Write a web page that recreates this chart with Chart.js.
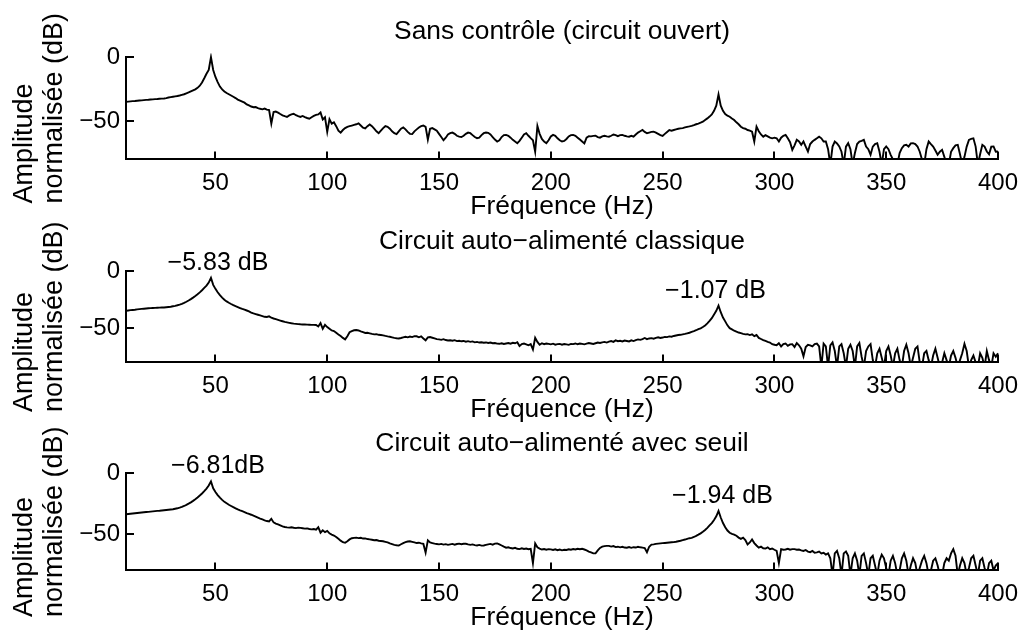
<!DOCTYPE html>
<html lang="fr">
<head>
<meta charset="utf-8">
<title>Spectres normalisés</title>
<script src="https://cdn.jsdelivr.net/npm/chart.js@4.4.1/dist/chart.umd.min.js"></script>
<style>
  html, body { margin: 0; padding: 0; background: #fff; overflow: hidden; }
  body { width: 1027px; height: 633px; position: relative; }
  .panel { position: absolute; left: 0; width: 1027px; }
</style>
</head>
<body>
<div class="panel" id="p1"><canvas id="c1"></canvas></div>
<div class="panel" id="p2"><canvas id="c2"></canvas></div>
<div class="panel" id="p3"><canvas id="c3"></canvas></div>
<script>
// frequency bins, 1 Hz apart
const freqStart = 10;
const freqEnd = 400;
const frequencies = Array.from({ length: freqEnd - freqStart + 1 }, (_, i) => freqStart + i);

const freqTicks = [50, 100, 150, 200, 250, 300, 350, 400];
const dbTicks = [-50, 0];
const dbMin = -80;
const dbMax = 0;

const titles = [
  "Sans contrôle (circuit ouvert)",
  "Circuit auto\u2212alimenté classique",
  "Circuit auto\u2212alimenté avec seuil",
];
const xTitle = "Fréquence (Hz)";
const yTitle = ["Amplitude", "normalisée (dB)"];

// normalised amplitude (dB), one value per bin from 10 to 400 Hz
const openCircuit = [
  -35.0, -34.8, -34.6, -34.4, -34.3, -34.1, -33.9, -33.8, -33.6, -33.4,
  -33.3, -33.1, -33.0, -32.8, -32.7, -32.5, -32.4, -32.3, -32.0, -31.6,
  -31.3, -31.0, -30.7, -30.4, -30.0, -29.5, -29.0, -28.3, -27.6, -26.8,
  -26.0, -25.2, -24.0, -22.3, -19.8, -16.5, -13.0, -10.0, 0.0, -10.0,
  -15.5, -19.5, -23.0, -25.2, -26.8, -28.0, -29.0, -30.0, -31.0, -32.0,
  -33.2, -34.0, -34.8, -35.6, -37.0, -37.8, -38.6, -39.2, -39.0, -39.8,
  -40.4, -40.8, -40.2, -41.0, -41.4, -52.0, -43.0, -42.6, -43.4, -44.5,
  -45.5, -46.2, -46.8, -45.6, -44.8, -44.3, -45.4, -46.2, -46.8, -46.0,
  -46.9, -47.6, -48.2, -47.0, -46.0, -45.2, -44.8, -43.3, -48.8, -47.0,
  -58.5, -48.5, -52.0, -51.0, -54.0, -57.5, -59.0, -57.0, -55.5, -54.5,
  -54.0, -53.5, -53.0, -52.5, -51.8, -53.5, -55.2, -55.8, -54.0, -52.6,
  -54.0, -56.0, -58.0, -59.5, -57.5, -55.5, -54.0, -54.5, -56.0, -58.0,
  -59.5, -60.2, -58.0, -56.0, -55.0, -56.5, -58.5, -60.0, -60.2, -58.0,
  -56.5, -55.0, -54.0, -53.5, -54.5, -64.5, -56.0, -55.5, -56.5, -57.5,
  -60.0, -62.5, -65.0, -63.0, -60.5, -59.5, -59.0, -60.0, -61.5, -62.2,
  -62.5, -61.5, -60.0, -59.0, -59.5, -61.0, -62.5, -63.4, -63.0, -61.0,
  -59.5, -59.0, -59.2, -60.5, -62.5, -64.5, -66.0, -65.0, -62.5, -61.0,
  -60.8, -61.5, -63.0, -64.7, -66.0, -67.3, -65.5, -63.0, -60.5, -59.5,
  -61.5, -63.4, -65.0, -74.0, -53.8, -60.0, -64.0, -66.0, -67.3, -65.0,
  -62.0, -60.8, -61.5, -63.5, -65.0, -66.0, -65.5, -64.0, -62.0, -61.0,
  -60.8, -61.5, -63.0, -64.5, -66.0, -67.5, -63.0, -61.8, -62.0, -61.6,
  -61.5, -62.5, -63.0, -62.0, -61.5, -62.0, -62.2, -61.5, -60.5, -61.0,
  -61.8, -61.0, -60.8, -61.5, -62.0, -62.2, -61.5, -62.2, -60.5, -59.0,
  -58.0, -57.0, -58.5, -59.5, -59.0, -58.5, -58.3, -59.0, -60.0, -61.0,
  -61.6, -60.0, -58.5, -57.0, -57.5, -57.0, -56.5, -56.0, -55.7, -55.5,
  -55.0, -54.5, -54.2, -53.8, -53.2, -52.5, -52.0, -51.3, -50.5, -49.2,
  -47.9, -46.5, -44.8, -42.0, -38.0, -29.2, -38.0, -42.0, -44.5, -45.8,
  -46.6, -48.0, -49.2, -51.0, -52.5, -54.4, -55.5, -56.0, -57.0, -57.5,
  -58.3, -66.0, -54.4, -58.0, -60.5, -62.2, -61.0, -62.0, -63.0, -63.5,
  -63.0, -63.5, -66.0, -63.0, -61.5, -60.8, -63.5, -66.5, -72.5, -69.0,
  -64.7, -66.0, -68.6, -66.0, -70.0, -73.8, -68.0, -66.0, -64.7, -63.5,
  -62.2, -63.5, -66.0, -66.0, -72.0, -84.0, -70.0, -66.0, -67.5, -69.9,
  -74.0, -84.0, -70.0, -67.3, -72.0, -84.0, -75.0, -68.0, -66.0, -65.5,
  -64.7, -69.9, -72.0, -76.4, -70.0, -68.0, -67.3, -74.0, -84.0, -72.0,
  -69.9, -72.0, -76.4, -80.0, -84.0, -84.0, -75.0, -71.2, -69.0, -68.6,
  -70.0, -67.5, -67.3, -68.0, -69.9, -74.0, -80.0, -84.0, -72.0, -66.0,
  -68.0, -69.9, -73.0, -76.4, -74.0, -72.5, -78.0, -84.0, -84.0, -74.0,
  -71.2, -69.0, -68.6, -76.0, -84.0, -78.0, -70.0, -64.7, -64.0, -63.5,
  -70.0, -84.0, -76.0, -68.6, -70.0, -73.8, -76.0, -70.0, -69.9, -74.0,
  -73.8,
];

const selfPowered = [
  -34.8, -34.5, -34.2, -34.0, -33.8, -33.5, -33.3, -33.1, -32.9, -32.7,
  -32.5, -32.4, -32.3, -32.2, -32.1, -32.0, -31.9, -31.8, -31.6, -31.4,
  -31.2, -30.8, -30.4, -29.9, -29.3, -28.6, -27.8, -26.8, -25.7, -24.5,
  -23.2, -21.8, -20.3, -18.6, -16.7, -14.7, -12.7, -10.0, -5.83, -12.0,
  -15.5, -18.5, -21.0, -23.2, -25.0, -26.5, -27.7, -28.8, -29.8, -30.7,
  -31.5, -32.3, -33.1, -33.8, -34.5, -35.2, -36.3, -37.0, -37.6, -38.2,
  -38.8, -39.4, -40.0, -40.2, -39.6, -40.8, -41.5, -42.1, -42.7, -43.3,
  -43.9, -44.5, -44.9, -45.3, -45.7, -46.0, -46.2, -46.4, -46.6, -46.7,
  -46.8, -46.9, -47.0, -47.1, -47.1, -47.2, -48.5, -45.5, -50.5, -47.0,
  -49.0, -50.5, -52.0, -52.5, -54.0, -55.5, -56.9, -58.5, -59.8, -57.0,
  -53.5, -52.5, -51.8, -51.6, -52.0, -52.8, -53.5, -54.2, -54.0, -54.5,
  -55.0, -55.4, -55.2, -55.8, -56.0, -56.3, -56.8, -57.2, -57.5, -58.0,
  -58.5, -58.8, -59.0, -58.6, -58.0, -57.5, -58.0, -57.3, -57.8, -57.0,
  -57.1, -58.0, -57.2, -59.0, -60.6, -58.0, -57.8, -58.4, -59.0, -59.6,
  -59.8, -60.2, -59.6, -60.4, -60.8, -60.6, -61.0, -60.5, -61.3, -61.0,
  -61.5, -61.2, -61.9, -61.4, -62.0, -61.6, -62.4, -62.0, -62.6, -62.3,
  -62.8, -62.5, -63.0, -62.6, -63.2, -63.0, -63.5, -63.7, -63.2, -63.8,
  -63.4, -63.0, -63.6, -62.8, -63.2, -62.3, -65.7, -64.0, -63.5, -64.2,
  -65.0, -64.0, -68.7, -58.4, -62.0, -64.5, -63.2, -64.0, -63.4, -63.7,
  -64.2, -63.6, -64.5, -64.0, -63.8, -64.5, -63.9, -64.2, -64.6, -63.8,
  -64.0, -63.4, -64.1, -63.5, -63.7, -64.2, -63.6, -63.0, -63.4, -63.8,
  -63.2, -62.6, -63.0, -62.4, -62.0, -62.6, -61.8, -61.3, -62.0, -60.7,
  -61.4, -61.0, -61.6, -60.8, -61.2, -61.6, -60.6, -61.3, -60.4, -59.8,
  -60.2, -59.5, -58.6, -59.6, -59.0, -58.7, -59.2, -58.5, -58.0, -58.6,
  -58.2, -57.6, -57.8, -57.2, -57.5, -56.8, -56.4, -56.0, -55.8, -55.4,
  -55.0, -54.5, -54.0, -53.3, -52.6, -51.8, -50.8, -50.1, -49.0, -47.6,
  -45.8, -43.6, -41.2, -38.0, -34.8, -30.27, -36.0, -40.7, -44.0, -47.5,
  -50.0, -51.0, -52.2, -53.0, -53.8, -54.4, -55.0, -55.4, -55.2, -56.0,
  -55.4, -57.0, -56.0, -58.5, -59.5, -60.5, -61.2, -62.0, -62.6, -64.0,
  -64.5, -65.0, -63.2, -66.0, -64.0, -63.4, -65.5, -64.2, -64.0, -66.5,
  -63.0, -65.0, -68.0, -74.6, -66.5, -64.5, -65.0, -66.0, -64.0, -63.5,
  -66.0, -84.0, -63.5, -66.0, -84.0, -65.0, -62.5, -70.0, -84.0, -66.0,
  -64.0, -72.0, -84.0, -68.0, -64.5, -70.0, -84.0, -66.0, -63.0, -75.0,
  -84.0, -70.0, -66.0, -64.0, -78.0, -84.0, -72.0, -68.0, -76.0, -84.0,
  -70.0, -66.0, -74.0, -84.0, -72.0, -68.0, -78.0, -84.0, -70.0, -64.5,
  -72.0, -84.0, -76.0, -68.0, -66.0, -80.0, -84.0, -72.0, -70.0, -78.0,
  -84.0, -74.0, -68.0, -76.0, -84.0, -80.0, -72.0, -78.0, -84.0, -74.0,
  -70.0, -76.0, -84.0, -78.0, -72.0, -63.7, -70.0, -84.0, -78.0, -74.0,
  -80.0, -84.0, -72.0, -76.0, -84.0, -70.0, -78.0, -84.0, -72.0, -75.0,
  -72.0,
];

const selfPoweredThreshold = [
  -33.8, -33.6, -33.4, -33.2, -33.0, -32.8, -32.6, -32.4, -32.2, -32.0,
  -31.8, -31.6, -31.4, -31.2, -31.0, -30.9, -30.7, -30.5, -30.3, -30.1,
  -29.9, -29.7, -29.3, -28.9, -28.4, -27.8, -27.0, -26.1, -25.1, -24.0,
  -22.8, -21.5, -20.0, -18.4, -16.7, -14.8, -12.7, -10.2, -6.81, -12.5,
  -15.5, -18.0, -20.2, -22.0, -23.6, -24.8, -26.0, -27.0, -28.0, -28.9,
  -29.8, -30.6, -31.3, -32.0, -32.8, -33.5, -34.2, -35.0, -35.8, -36.6,
  -37.4, -38.1, -38.8, -39.4, -39.7, -37.5, -40.5, -41.5, -42.2, -43.0,
  -43.8, -44.3, -44.6, -44.8, -44.5, -44.9, -45.2, -44.8, -45.0, -45.3,
  -45.6, -45.4, -45.9, -46.2, -46.0, -46.5, -44.5, -49.0, -47.0, -48.5,
  -47.5, -49.5, -50.5, -51.3, -52.5, -54.0, -55.5, -56.8, -57.3, -56.0,
  -54.5, -53.5, -53.2, -53.0, -53.4, -53.2, -53.8, -53.7, -54.2, -54.5,
  -54.8, -55.2, -55.0, -55.6, -55.8, -56.0, -56.5, -57.0, -57.8, -58.4,
  -59.0, -59.3, -59.5, -58.5, -57.5, -56.8, -56.2, -56.0, -56.5, -57.0,
  -57.5, -57.2, -57.8, -58.2, -65.4, -55.3, -57.0, -57.5, -58.0, -58.3,
  -58.6, -58.2, -58.8, -58.4, -59.0, -58.6, -58.2, -58.8, -58.3, -58.0,
  -58.5, -58.1, -58.1, -58.6, -59.0, -58.6, -59.2, -59.5, -59.0, -59.6,
  -59.5, -59.0, -58.6, -58.2, -58.8, -58.0, -57.8, -58.6, -59.5, -60.5,
  -61.3, -61.0, -61.6, -62.0, -61.4, -62.2, -62.5, -61.8, -62.4, -62.0,
  -62.6, -62.2, -74.0, -57.8, -61.0, -62.0, -62.8, -62.4, -63.0, -62.5,
  -62.7, -63.2, -62.6, -63.4, -62.8, -63.5, -63.0, -63.2, -62.6, -63.0,
  -62.4, -62.8, -62.2, -62.6, -62.2, -62.8, -63.5, -64.5, -65.2, -66.0,
  -66.0, -63.5, -61.5, -60.5, -60.0, -59.8, -59.8, -60.4, -60.0, -60.8,
  -60.5, -61.0, -60.6, -61.2, -61.3, -60.8, -61.4, -60.9, -61.2, -60.6,
  -61.0, -61.3, -61.6, -65.0, -60.5, -58.8, -58.6, -58.2, -58.0, -57.8,
  -57.6, -57.4, -57.2, -57.0, -56.8, -56.7, -56.4, -56.0, -55.6, -55.1,
  -54.6, -54.0, -53.5, -53.2, -52.5, -51.6, -50.6, -49.5, -48.2, -46.8,
  -45.0, -43.0, -41.1, -38.5, -35.5, -31.14, -36.5, -41.0, -44.5, -47.2,
  -49.0, -50.0, -50.5, -51.5, -53.0, -54.0, -53.0, -55.0, -58.6, -57.0,
  -54.5, -57.5, -59.5, -61.3, -60.5, -61.8, -62.0, -61.0, -62.5, -62.0,
  -63.0, -63.9, -74.0, -62.5, -63.0, -62.8, -62.2, -63.0, -62.5, -62.5,
  -63.0, -62.8, -63.5, -64.0, -63.2, -64.5, -65.0, -64.0, -65.5, -65.2,
  -64.5, -66.0, -65.5, -67.0, -66.0, -70.0, -84.0, -66.0, -64.0, -70.0,
  -84.0, -66.0, -64.5, -68.0, -84.0, -70.0, -66.0, -72.0, -84.0, -68.0,
  -66.0, -74.0, -84.0, -70.0, -68.0, -76.0, -84.0, -72.0, -67.0, -70.0,
  -78.0, -84.0, -72.0, -68.0, -74.0, -84.0, -80.0, -70.0, -66.0, -72.0,
  -84.0, -76.0, -70.0, -74.0, -84.0, -78.0, -72.0, -68.0, -74.0, -84.0,
  -80.0, -72.0, -70.0, -76.0, -84.0, -84.0, -74.0, -70.0, -72.0, -66.0,
  -62.5, -68.0, -84.0, -76.0, -70.0, -74.0, -84.0, -78.0, -70.0, -68.0,
  -76.0, -84.0, -72.0, -70.0, -78.0, -84.0, -74.0, -72.0, -80.0, -76.0,
  -74.0,
];

// peak attenuation labels (text and the bin it sits above)
const peakFreqs = [48, 275];
const peakTexts = [
  [],
  ["\u22125.83 dB", "\u22121.07 dB"],
  ["\u22126.81dB", "\u22121.94 dB"],
];

const FONT = '"Liberation Sans", Arial, Helvetica, sans-serif';
const minus = (s) => String(s).replace("-", "\u2212");

// two-line y label, lines left-aligned and the block centred on the axis
const yLabelPlugin = {
  id: "yLabel",
  afterDraw(chart) {
    const { ctx, chartArea } = chart;
    ctx.save();
    ctx.font = `27px ${FONT}`;
    ctx.fillStyle = "#000";
    ctx.textAlign = "left";
    ctx.textBaseline = "alphabetic";
    const longest = Math.max(...yTitle.map((l) => ctx.measureText(l).width));
    const startY = (chartArea.top + chartArea.bottom) / 2 + longest / 2;
    const baselines = [32, 62];
    yTitle.forEach((line, i) => {
      ctx.save();
      ctx.translate(baselines[i], startY);
      ctx.rotate(-Math.PI / 2);
      ctx.fillText(line, 0, 0);
      ctx.restore();
    });
    ctx.restore();
  },
};

const peakLabelPlugin = {
  id: "peakLabels",
  afterDatasetsDraw(chart, args, opts) {
    const texts = opts.texts || [];
    if (!texts.length) return;
    const { ctx, scales } = chart;
    const data = chart.data.datasets[0].data;
    ctx.save();
    ctx.font = `25px ${FONT}`;
    ctx.fillStyle = "#000";
    ctx.textAlign = "center";
    ctx.textBaseline = "alphabetic";
    texts.forEach((text, i) => {
      const f = peakFreqs[i];
      const point = data[f - freqStart];
      const px = scales.x.getPixelForValue(f) + opts.dx[i];
      const py = scales.y.getPixelForValue(point.y) - 8;
      ctx.fillText(text, px, py);
    });
    ctx.restore();
  },
};

const panels = [
  { div: "p1", canvas: "c1", top: 0, height: 223, titlePad: { top: 15.4, bottom: 10.1 }, series: openCircuit, dx: [0, 0] },
  { div: "p2", canvas: "c2", top: 212, height: 214, titlePad: { top: 13.4, bottom: 14.1 }, series: selfPowered, dx: [7, -3] },
  { div: "p3", canvas: "c3", top: 414, height: 220, titlePad: { top: 13.4, bottom: 14.1 }, series: selfPoweredThreshold, dx: [7, 4] },
];

panels.forEach((p, k) => {
  const box = document.getElementById(p.div);
  box.style.top = p.top + "px";
  box.style.height = p.height + "px";

  new Chart(document.getElementById(p.canvas), {
    type: "line",
    data: {
      datasets: [{
        data: frequencies.map((f, i) => ({ x: f, y: p.series[i] })),
        borderColor: "#000",
        borderWidth: 1.9,
        pointRadius: 0,
        tension: 0,
        fill: false,
        clip: { left: 2, top: 4, right: 2, bottom: 0 },
      }],
    },
    options: {
      responsive: true,
      maintainAspectRatio: false,
      animation: false,
      events: [],
      layout: { padding: { left: 0, right: 29, top: 0, bottom: 0 } },
      plugins: {
        legend: { display: false },
        tooltip: { enabled: false },
        title: {
          display: true,
          text: titles[k],
          color: "#000",
          fullSize: false,
          font: { family: FONT, size: 26.4, weight: "normal", lineHeight: 1.2 },
          padding: p.titlePad,
        },
        peakLabels: { texts: peakTexts[k], dx: p.dx },
      },
      scales: {
        x: {
          type: "linear",
          min: freqStart,
          max: freqEnd,
          afterBuildTicks: (s) => { s.ticks = freqTicks.map((v) => ({ value: v })); },
          afterFit: (s) => { s.height = 63.6; s.paddingLeft = 0; s.paddingRight = 0; },
          ticks: { color: "#000", font: { family: FONT, size: 24 }, padding: 17.6, maxRotation: 0, callback: (v) => minus(v) },
          grid: { display: true, drawOnChartArea: false, drawTicks: true, tickLength: -8, color: "#000", lineWidth: 2 },
          border: { display: true, color: "#000", width: 2 },
          title: { display: true, text: xTitle, color: "#000", font: { family: FONT, size: 26.4, lineHeight: 1.2 }, padding: { top: 0, bottom: 0 } },
        },
        y: {
          type: "linear",
          min: dbMin,
          max: dbMax,
          afterBuildTicks: (s) => { s.ticks = dbTicks.map((v) => ({ value: v })); },
          afterFit: (s) => { s.width = 126; },
          ticks: { color: "#000", font: { family: FONT, size: 24 }, padding: 14, callback: (v) => minus(v) },
          grid: { display: true, drawOnChartArea: false, drawTicks: true, tickLength: -8, color: "#000", lineWidth: 2 },
          border: { display: true, color: "#000", width: 2 },
          title: { display: false },
        },
      },
    },
    plugins: [yLabelPlugin, peakLabelPlugin],
  });
});
</script>
</body>
</html>
